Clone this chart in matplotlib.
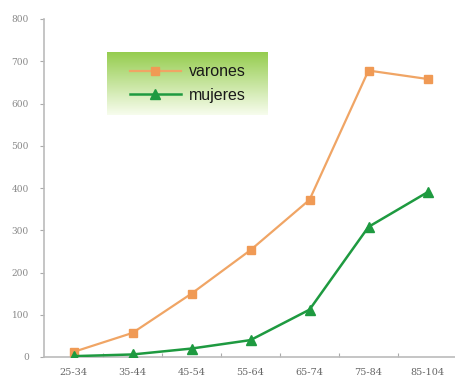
import numpy as np
import matplotlib.pyplot as plt
from matplotlib.lines import Line2D

categorias = ["25-34", "35-44", "45-54", "55-64", "65-74", "75-84", "85-104"]
varones = [12, 57, 150, 253, 372, 678, 658]
mujeres = [2, 6, 20, 40, 112, 308, 390]

fig = plt.figure(figsize=(4.55, 3.86), dpi=100)
ax = fig.add_axes([44 / 455, 29 / 386, 413 / 455, 338 / 386])

x = np.arange(len(categorias))
ax.plot(x, varones, color="#f0a565", lw=1.6, marker="s", markersize=5.5,
        markerfacecolor="#f09a55", markeredgecolor="#f09a55", zorder=3)
ax.plot(x, mujeres, color="#1e9a40", lw=1.8, marker="^", markersize=6.5,
        markerfacecolor="#1e9a40", markeredgecolor="#1e9a40", zorder=3)

ax.set_xlim(-0.5, len(categorias) - 0.5)
ax.set_ylim(0, 800)
ax.set_yticks(range(0, 801, 100))
ax.set_xticks(np.arange(0.5, len(categorias) - 1, 1.0))
ax.set_xticklabels([])
ax.set_xticks(x, minor=True)
ax.set_xticklabels(categorias, minor=True)
ax.tick_params(axis="x", which="minor", length=0, pad=8)
ax.tick_params(axis="x", which="major", length=3, direction="in", color="#aaaaaa")
ax.tick_params(axis="y", length=3, color="#aaaaaa", pad=8)
for lab in ax.get_xticklabels(minor=True):
    lab.set_fontfamily("DejaVu Serif")
    lab.set_fontsize(7)
    lab.set_color("#666666")
for lab in ax.get_yticklabels():
    lab.set_fontfamily("DejaVu Serif")
    lab.set_fontsize(6.5)
    lab.set_color("#888888")

for s in ["top", "right"]:
    ax.spines[s].set_visible(False)
for s in ["left", "bottom"]:
    ax.spines[s].set_color("#bbbbbb")
    ax.spines[s].set_linewidth(1.2)

# legend box with green gradient
lax = fig.add_axes([107 / 455, (386 - 115) / 386, 161 / 455, 63 / 386])
top = np.array([0.58, 0.80, 0.30])
bot = np.array([0.97, 0.99, 0.93])
t = np.linspace(0, 1, 100)[:, None]
grad = top * (1 - t) + bot * t
lax.imshow(grad[:, None, :].repeat(2, axis=1), aspect="auto",
           extent=[0, 1, 0, 1], origin="upper")
lax.set_axis_off()
lax.set_xlim(0, 1)
lax.set_ylim(0, 1)

handles = [
    Line2D([], [], color="#f0a565", lw=1.6, marker="s", markersize=5.5,
           markerfacecolor="#f09a55", markeredgecolor="#f09a55"),
    Line2D([], [], color="#1e9a40", lw=1.8, marker="^", markersize=6.5,
           markerfacecolor="#1e9a40", markeredgecolor="#1e9a40"),
]
leg = lax.legend(handles, ["varones", "mujeres"], loc="center", frameon=False,
                 fontsize=11, handlelength=3.2, handletextpad=0.5,
                 labelspacing=0.55, borderpad=0.2,
                 prop={"family": "Liberation Sans", "size": 11.5})
for txt in leg.get_texts():
    txt.set_color("#1a1a1a")

plt.savefig("out.png", dpi=100)
